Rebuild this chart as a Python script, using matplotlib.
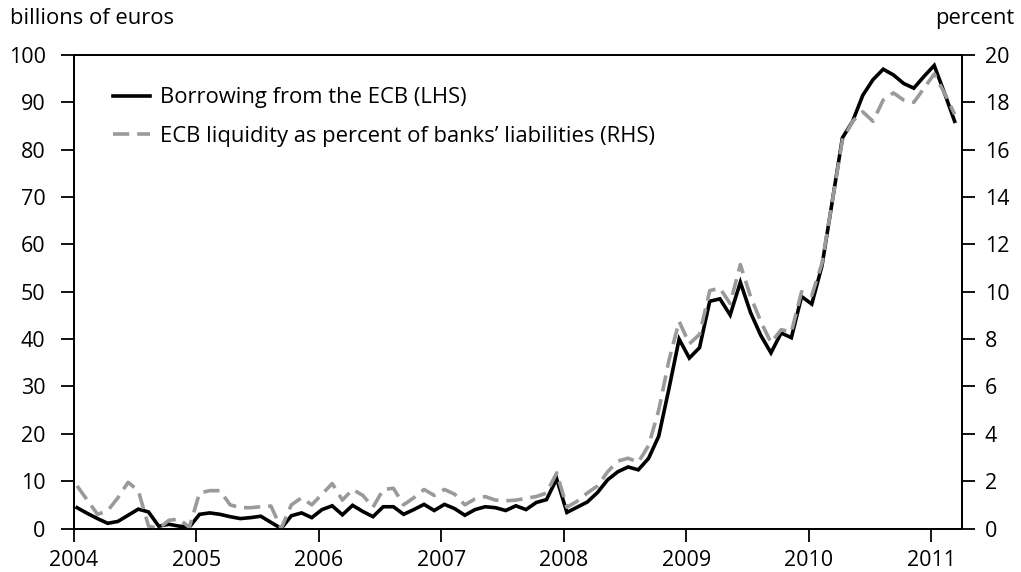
import matplotlib
matplotlib.use('Agg')
import matplotlib.pyplot as plt
import numpy as np

# monthly observations, Jan 2004 - Mar 2011 (plotted mid-month)
start_year = 2004
borrowing_bn = [
    4.4, 3.2, 2.1, 1.1, 1.5, 2.8, 4.1, 3.5, 0.5, 0.9, 0.5, 0.3,
    3.0, 3.3, 3.0, 2.5, 2.1, 2.3, 2.6, 1.3, 0.0, 2.7, 3.3, 2.3,
    4.0, 4.8, 2.9, 4.9, 3.6, 2.5, 4.6, 4.6, 3.0, 4.0, 5.1, 3.8,
    5.1, 4.2, 2.8, 4.0, 4.6, 4.4, 3.8, 4.8, 4.0, 5.5, 6.1, 10.5,
    3.4, 4.5, 5.6, 7.6, 10.3, 12.0, 13.0, 12.4, 14.8, 19.5, 29.5, 40.0,
    36.0, 38.2, 48.0, 48.5, 45.1, 52.0, 45.6, 40.8, 37.1, 41.3, 40.3, 49.0,
    47.4, 55.5, 69.0, 82.5, 86.0, 91.5, 94.8, 97.0, 95.8, 94.0, 93.0, 95.5,
    97.8, 92.0, 86.0,
]
liquidity_pct = [
    1.8, 1.2, 0.6, 0.75, 1.3, 1.95, 1.6, 0.1, 0.0, 0.35, 0.4, 0.05,
    1.5, 1.6, 1.6, 1.0, 0.88, 0.88, 0.92, 0.95, 0.0, 1.0, 1.3, 1.0,
    1.45, 1.9, 1.2, 1.65, 1.4, 0.9, 1.65, 1.7, 1.0, 1.3, 1.65, 1.4,
    1.65, 1.45, 1.0, 1.25, 1.35, 1.2, 1.17, 1.2, 1.28, 1.35, 1.5, 2.35,
    0.9, 1.15, 1.5, 1.8, 2.4, 2.85, 2.97, 2.8, 3.5, 5.0, 7.1, 8.75,
    7.8, 8.2, 10.05, 10.15, 9.5, 11.15, 9.8, 8.75, 7.85, 8.4, 8.3, 10.0,
    9.85, 11.2, 13.8, 16.4, 17.2, 17.6, 17.2, 18.1, 18.4, 18.1, 18.0, 18.6,
    19.2, 18.4, 17.5,
]
year_ticks = list(range(2004, 2012))
left_ticks = list(range(0, 101, 10))
right_ticks = list(range(0, 21, 2))

dates = start_year + (np.arange(len(borrowing_bn)) + 0.3) / 12.0

plt.rcParams['font.family'] = ['Open Sans', 'DejaVu Sans']

fig = plt.figure(figsize=(10.21, 5.72), dpi=100)
ax = fig.add_axes([0.0725, 0.076, 0.8695, 0.8278])
ax2 = ax.twinx()

line1, = ax.plot(dates, borrowing_bn, color='black', linewidth=2.6,
                 solid_joinstyle='miter', label='Borrowing from the ECB (LHS)')
line2, = ax2.plot(dates, liquidity_pct, color='#9a9a9a', linewidth=2.6,
                  dashes=(4.5, 2.2),
                  label='ECB liquidity as percent of banks\u2019 liabilities (RHS)')

ax.set_xlim(2004, 2011.25)
ax.set_ylim(0, 100)
ax2.set_ylim(0, 20)
ax.set_xticks(year_ticks)
ax.set_yticks(left_ticks)
ax2.set_yticks(right_ticks)

for a in (ax, ax2):
    for s in a.spines.values():
        s.set_linewidth(1.3)
ax.tick_params(axis='x', direction='out', length=9.5, width=1.3,
               labelsize=15.5, pad=6)
ax.tick_params(axis='y', direction='out', length=9.5, width=1.3,
               labelsize=15.5, pad=11)
ax2.tick_params(axis='y', direction='out', length=9.5, width=1.3,
                labelsize=15.5, pad=7)

fig.text(0.01, 0.967, 'billions of euros', fontsize=15.8, va='center', ha='left')
fig.text(0.994, 0.967, 'percent', fontsize=15.8, va='center', ha='right')

ax.legend(handles=[line1, line2], loc='upper left', bbox_to_anchor=(0.034, 0.95),
          borderaxespad=0, frameon=False, fontsize=15.8, handlelength=1.7,
          handletextpad=0.45, labelspacing=0.8)

fig.savefig('out.png', dpi=100)
